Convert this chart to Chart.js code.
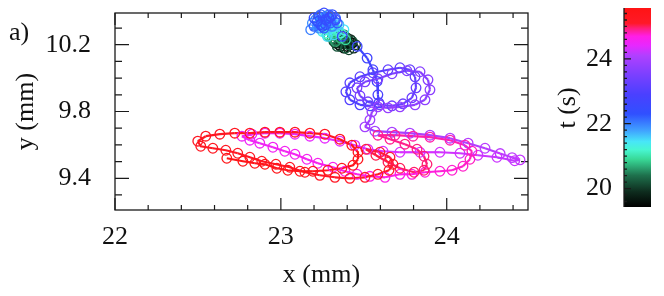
<!DOCTYPE html>
<html>
<head>
<meta charset="utf-8">
<script src="https://cdn.jsdelivr.net/npm/chart.js@4.4.0/dist/chart.umd.min.js"></script>
<style>
  html, body { margin: 0; padding: 0; background: #fff; }
</style>
</head>
<body>
<canvas id="traj" width="664" height="296"></canvas>
<script>
// particle trajectory: position in mm, time in s
const xs = [
  23.42, 23.40, 23.43, 23.38, 23.41, 23.36, 23.39, 23.35, 23.42, 23.37, 23.44, 23.33,
  23.40, 23.45, 23.36, 23.41, 23.32, 23.38, 23.43, 23.34, 23.39, 23.36, 23.41, 23.33,
  23.35, 23.31, 23.38, 23.33, 23.29, 23.36, 23.32, 23.28, 23.39, 23.34,
  23.30, 23.34, 23.27, 23.31, 23.36, 23.29, 23.25, 23.33, 23.38, 23.28, 23.32, 23.26, 23.35, 23.30,
  23.28, 23.24, 23.30, 23.22, 23.27, 23.32, 23.25, 23.19, 23.23, 23.29, 23.31, 23.18,
  23.26, 23.21, 23.33, 23.24, 23.28, 23.20, 23.30, 23.26, 23.23, 23.34, 23.27, 23.22,
  23.29, 23.25, 23.31, 23.20, 23.27, 23.24, 23.30, 23.26, 23.33, 23.37,
  23.46, 23.52, 23.555, 23.58, 23.585,
  23.591, 23.537, 23.477, 23.416, 23.392, 23.416, 23.477, 23.555, 23.646, 23.718, 23.778, 23.809,
  23.815, 23.790, 23.736, 23.670, 23.597, 23.525, 23.477, 23.459, 23.507, 23.585, 23.670, 23.760,
  23.839, 23.887, 23.899, 23.869, 23.809, 23.718, 23.646, 23.585, 23.549, 23.537, 23.507,
  23.567, 23.670, 23.778, 23.899, 24.020, 24.129, 24.231, 24.322, 24.394, 24.442, 24.410,
  24.303, 24.188, 24.080, 23.959, 23.839, 23.718, 23.616, 23.525, 23.446, 23.356, 23.265, 23.175,
  23.085, 22.994, 22.904, 22.825, 22.765,
  22.813, 22.873, 22.952, 23.024, 23.085, 23.157, 23.223, 23.314, 23.386, 23.459, 23.537, 23.628,
  23.718, 23.790, 23.869, 23.959, 24.032, 24.098, 24.140, 24.152, 24.110, 24.020, 23.899, 23.797,
  23.688, 23.585,
  23.658, 23.748, 23.821, 23.863, 23.881, 23.863, 23.803, 23.718, 23.646, 23.573, 23.513,
  23.597, 23.658, 23.676, 23.652, 23.585, 23.507, 23.416, 23.326, 23.235, 23.145, 23.054, 22.970,
  22.885, 22.813, 22.740, 22.668, 22.590, 22.517, 22.499, 22.547, 22.632, 22.722, 22.813, 22.904,
  22.994, 23.085, 23.175, 23.265, 23.356, 23.428, 23.465, 23.465, 23.435, 23.368, 23.284, 23.193,
  23.115, 23.042, 22.976, 22.904, 22.843, 22.771, 22.674
];
const ys = [
  10.20, 10.19, 10.21, 10.18, 10.22, 10.19, 10.21, 10.20, 10.23, 10.22, 10.18, 10.21,
  10.24, 10.20, 10.23, 10.17, 10.22, 10.25, 10.22, 10.19, 10.18, 10.24, 10.20, 10.23,
  10.25, 10.24, 10.26, 10.22, 10.25, 10.24, 10.27, 10.26, 10.23, 10.28,
  10.28, 10.29, 10.27, 10.30, 10.27, 10.29, 10.28, 10.31, 10.29, 10.25, 10.26, 10.30, 10.32, 10.31,
  10.32, 10.34, 10.35, 10.31, 10.37, 10.34, 10.36, 10.33, 10.30, 10.38, 10.31, 10.29,
  10.33, 10.35, 10.36, 10.38, 10.34, 10.31, 10.33, 10.30, 10.37, 10.33, 10.32, 10.34,
  10.36, 10.31, 10.38, 10.36, 10.35, 10.32, 10.37, 10.39, 10.35, 10.25,
  10.19, 10.12, 10.05, 9.98, 9.90,
  9.852, 9.834, 9.840, 9.870, 9.918, 9.972, 10.008, 10.032, 10.050, 10.062, 10.050, 10.008,
  9.942, 9.882, 9.846, 9.834, 9.840, 9.858, 9.894, 9.942, 9.978, 9.996, 10.026, 10.044,
  10.038, 9.990, 9.930, 9.870, 9.840, 9.828, 9.822, 9.828, 9.798, 9.750, 9.708,
  9.682, 9.676, 9.670, 9.658, 9.640, 9.610, 9.580, 9.548, 9.524, 9.510, 9.505,
  9.526, 9.538, 9.550, 9.556, 9.556, 9.556, 9.562, 9.574, 9.598, 9.622, 9.640, 9.652,
  9.664, 9.670, 9.670, 9.664, 9.652,
  9.628, 9.610, 9.586, 9.562, 9.544, 9.514, 9.490, 9.466, 9.442, 9.424, 9.412, 9.406,
  9.424, 9.424, 9.436, 9.442, 9.448, 9.472, 9.514, 9.562, 9.598, 9.628, 9.646, 9.652,
  9.658, 9.658,
  9.634, 9.604, 9.574, 9.532, 9.484, 9.448, 9.436, 9.460, 9.496, 9.538, 9.574,
  9.556, 9.526, 9.484, 9.448, 9.424, 9.406, 9.400, 9.406, 9.418, 9.436, 9.466, 9.484,
  9.502, 9.526, 9.550, 9.568, 9.580, 9.592, 9.622, 9.652, 9.664, 9.670, 9.670, 9.676,
  9.676, 9.676, 9.670, 9.664, 9.634, 9.598, 9.556, 9.514, 9.478, 9.460, 9.448, 9.442,
  9.442, 9.448, 9.460, 9.484, 9.490, 9.502, 9.520
];
const ts = [
  19.45, 19.49, 19.53, 19.57, 19.61, 19.65, 19.69, 19.73, 19.77, 19.81, 19.85, 19.89,
  19.93, 19.97, 20.01, 20.05, 20.09, 20.13, 20.17, 20.21, 20.25, 20.29, 20.33, 20.37,
  20.42, 20.49, 20.56, 20.63, 20.70, 20.77, 20.84, 20.91, 20.98, 21.05,
  21.10, 21.145, 21.19, 21.235, 21.28, 21.325, 21.37, 21.415, 21.46, 21.505, 21.55, 21.595, 21.64, 21.685,
  21.73, 21.755, 21.78, 21.805, 21.83, 21.855, 21.88, 21.905, 21.93, 21.955, 21.98, 22.005,
  22.03, 22.055, 22.08, 22.105, 22.13, 22.155, 22.18, 22.205, 22.23, 22.255, 22.28, 22.305,
  22.33, 22.355, 22.38, 22.405, 22.43, 22.455, 22.48, 22.505, 22.53, 22.555,
  22.62, 22.70, 22.76, 22.82, 22.88,
  22.92, 22.95, 22.98, 23.01, 23.04, 23.07, 23.10, 23.13, 23.16, 23.19, 23.22, 23.25,
  23.28, 23.31, 23.34, 23.37, 23.40, 23.43, 23.46, 23.49, 23.52, 23.55, 23.58, 23.61,
  23.64, 23.67, 23.70, 23.73, 23.76, 23.79, 23.82, 23.85, 23.88, 23.91, 23.94,
  23.97, 24.00, 24.03, 24.06, 24.09, 24.12, 24.15, 24.17, 24.19, 24.21, 24.23,
  24.25, 24.265, 24.28, 24.295, 24.31, 24.325, 24.34, 24.355, 24.37, 24.385, 24.40, 24.415,
  24.43, 24.445, 24.46, 24.475, 24.49,
  24.51, 24.525, 24.54, 24.555, 24.57, 24.585, 24.60, 24.615, 24.63, 24.645, 24.66, 24.675,
  24.69, 24.705, 24.72, 24.735, 24.75, 24.765, 24.78, 24.795, 24.81, 24.825, 24.84, 24.855,
  24.87, 24.885,
  24.90, 24.915, 24.93, 24.945, 24.96, 24.975, 24.99, 25.005, 25.02, 25.035, 25.05,
  25.07, 25.08, 25.09, 25.10, 25.11, 25.12, 25.13, 25.14, 25.15, 25.16, 25.17, 25.18,
  25.19, 25.20, 25.21, 25.22, 25.23, 25.24, 25.25, 25.26, 25.27, 25.28, 25.29, 25.30,
  25.31, 25.32, 25.33, 25.34, 25.35, 25.36, 25.37, 25.38, 25.39, 25.40, 25.41, 25.42,
  25.43, 25.44, 25.45, 25.46, 25.47, 25.48, 25.49
];
const xTickLabels = [22, 23, 24];
const yTickLabels = [9.4, 9.8, 10.2];
const tTickLabels = [20, 22, 24];
const xRange = [22, 24.49];
const yRange = [9.21, 10.39];
const tRange = [19.43, 25.57];

// colour map for the time axis
const cmap = [
  [19.43, [0, 0, 0]],
  [19.9, [14, 44, 30]],
  [20.4, [30, 112, 76]],
  [20.9, [56, 216, 150]],
  [21.2, [72, 246, 210]],
  [21.45, [72, 230, 248]],
  [21.8, [64, 160, 255]],
  [22.3, [48, 80, 255]],
  [22.9, [74, 64, 255]],
  [23.5, [122, 64, 255]],
  [24.1, [176, 64, 255]],
  [24.4, [230, 40, 255]],
  [24.7, [255, 30, 230]],
  [24.95, [255, 30, 120]],
  [25.1, [255, 25, 40]],
  [25.57, [255, 20, 20]]
];
function colorAt(t) {
  if (t <= cmap[0][0]) return 'rgb(' + cmap[0][1].join(',') + ')';
  for (let i = 1; i < cmap.length; i++) {
    if (t <= cmap[i][0]) {
      const f = (t - cmap[i - 1][0]) / (cmap[i][0] - cmap[i - 1][0]);
      const a = cmap[i - 1][1], b = cmap[i][1];
      return 'rgb(' + a.map((v, k) => Math.round(v + (b[k] - v) * f)).join(',') + ')';
    }
  }
  return 'rgb(' + cmap[cmap.length - 1][1].join(',') + ')';
}

const serif = '"Liberation Serif", "Times New Roman", serif';
const isMajor = (v, list) => list.some(l => Math.abs(l - v) < 1e-6);

const decor = {
  id: 'decor',
  beforeDatasetsDraw(chart) {
    const {ctx, chartArea: a, scales: {x, y}} = chart;
    ctx.save();
    ctx.strokeStyle = '#1a1a1a';
    ctx.lineWidth = 1.3;
    ctx.strokeRect(a.left, a.top, a.right - a.left, a.bottom - a.top);
    ctx.lineWidth = 1.2;
    ctx.beginPath();
    x.ticks.forEach(tk => {
      const p = x.getPixelForValue(tk.value);
      const len = isMajor(tk.value, xTickLabels) ? 12 : 5;
      ctx.moveTo(p, a.bottom); ctx.lineTo(p, a.bottom - len);
      ctx.moveTo(p, a.top); ctx.lineTo(p, a.top + len);
    });
    y.ticks.forEach(tk => {
      const p = y.getPixelForValue(tk.value);
      const len = isMajor(tk.value, yTickLabels) ? 14 : 7;
      ctx.moveTo(a.left, p); ctx.lineTo(a.left + len, p);
      ctx.moveTo(a.right, p); ctx.lineTo(a.right - len, p);
    });
    ctx.stroke();
    ctx.restore();
  },
  afterDraw(chart) {
    const {ctx} = chart;
    ctx.save();
    // panel letter
    ctx.fillStyle = '#111';
    ctx.font = '26px ' + serif;
    ctx.textAlign = 'left';
    ctx.textBaseline = 'middle';
    ctx.fillText('a)', 9, 33);

    // colour bar
    const bx0 = 624, bx1 = 651, by0 = 8, by1 = 207;
    const tp = t => by1 - (t - tRange[0]) / (tRange[1] - tRange[0]) * (by1 - by0);
    const g = ctx.createLinearGradient(0, by1, 0, by0);
    cmap.forEach(s => {
      const f = (s[0] - tRange[0]) / (tRange[1] - tRange[0]);
      g.addColorStop(Math.min(1, Math.max(0, f)), 'rgb(' + s[1].join(',') + ')');
    });
    ctx.fillStyle = g;
    ctx.fillRect(bx0, by0, bx1 - bx0, by1 - by0);
    ctx.strokeStyle = '#1a1a1a';
    ctx.lineWidth = 1.3;
    ctx.beginPath();
    ctx.moveTo(bx0, by0); ctx.lineTo(bx0, by1);
    for (let k = 98; k <= 127; k++) {
      const t = k / 5;
      const p = tp(t);
      const len = isMajor(t, tTickLabels) ? 7 : 3;
      ctx.moveTo(bx0, p); ctx.lineTo(bx0 + len, p);
    }
    ctx.stroke();

    ctx.fillStyle = '#111';
    ctx.font = '26px ' + serif;
    ctx.textAlign = 'right';
    ctx.textBaseline = 'middle';
    tTickLabels.forEach(t => ctx.fillText(String(t), 612, tp(t)));

    ctx.translate(568, 108);
    ctx.rotate(-Math.PI / 2);
    ctx.textAlign = 'center';
    ctx.fillText('t (s)', 0, 0);
    ctx.restore();
  }
};

const points = xs.map((x, i) => ({x: x, y: ys[i]}));

new Chart(document.getElementById('traj'), {
  type: 'scatter',
  data: {
    datasets: [{
      data: points,
      showLine: true,
      borderWidth: 2.2,
      tension: 0,
      clip: false,
      segment: {
        borderColor: c => colorAt(ts[c.p0DataIndex])
      },
      pointRadius: 4.8,
      pointBorderWidth: 1.3,
      pointBackgroundColor: 'rgba(0,0,0,0)',
      pointBorderColor: ts.map(colorAt)
    }]
  },
  options: {
    responsive: false,
    animation: false,
    layout: { padding: { top: 13, right: 136, left: 0, bottom: 0 } },
    plugins: { legend: { display: false }, tooltip: { enabled: false } },
    scales: {
      x: {
        type: 'linear',
        min: xRange[0],
        max: xRange[1],
        grid: { display: false, drawTicks: false },
        border: { display: false },
        ticks: {
          stepSize: 0.2,
          includeBounds: false,
          autoSkip: false,
          maxRotation: 0,
          padding: 12,
          color: '#111',
          font: { family: serif, size: 26 },
          callback: v => isMajor(v, xTickLabels) ? String(Math.round(v)) : ''
        },
        title: {
          display: true,
          text: 'x (mm)',
          color: '#111',
          font: { family: serif, size: 26 },
          padding: { top: 0, bottom: 5 }
        },
        afterFit: s => { s.height = 86; s.paddingLeft = 0; s.paddingRight = 0; }
      },
      y: {
        type: 'linear',
        min: yRange[0],
        max: yRange[1],
        grid: { display: false, drawTicks: false },
        border: { display: false },
        ticks: {
          stepSize: 0.1,
          includeBounds: false,
          autoSkip: false,
          padding: 24,
          color: '#111',
          font: { family: serif, size: 26 },
          callback: v => isMajor(v, yTickLabels) ? v.toFixed(1) : ''
        },
        title: {
          display: true,
          text: 'y (mm)',
          color: '#111',
          font: { family: serif, size: 26 },
          padding: { top: 11, bottom: 0 }
        },
        afterFit: s => { s.width = 115; s.paddingTop = 0; s.paddingBottom = 0; }
      }
    }
  },
  plugins: [decor]
});
</script>
</body>
</html>
